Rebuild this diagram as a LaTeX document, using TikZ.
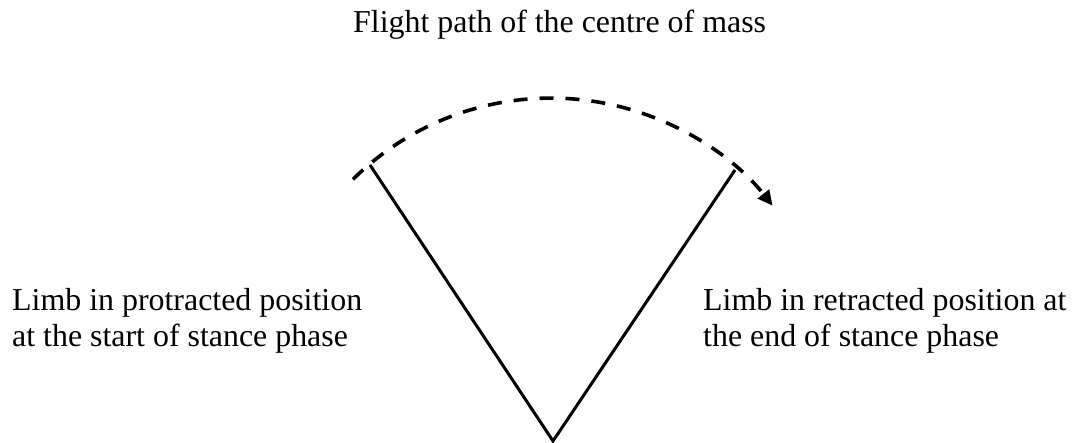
\documentclass[tikz,border=0pt]{standalone}
\usepackage{fontspec}
\setmainfont{Liberation Serif}
\usetikzlibrary{arrows.meta}
\begin{document}
\begin{tikzpicture}[x=1pt,y=1pt,
  lbl/.style={inner sep=0pt, align=left, font=\fontsize{31.9}{36.5}\selectfont},
  limb/.style={line width=3pt, line join=miter},
  flight/.style={line width=3.6pt, dash pattern=on 14pt off 12pt, -{Triangle[length=15pt,width=14pt]}}]
\useasboundingbox (0,0) rectangle (1075,-443);
\node[lbl, anchor=base west] (title) at (353,-32.3) {Flight path of the centre of mass};
\node[lbl, anchor=base west] (left) at (12,-346.5) {Limb in protracted position\\at the start of stance phase};
\node[lbl, anchor=base west] (right) at (703,-346.5) {Limb in retracted position at\\the end of stance phase};
\coordinate (foot) at (553,-441);
\coordinate (ltop) at (370,-165);
\coordinate (rtop) at (735,-170);
\coordinate (arcstart) at (353,-179.3);
\draw[limb] (ltop) -- (foot) -- (rtop);
\draw[flight] (arcstart) arc[start angle=134.6, end angle=38.2, radius=282];
\end{tikzpicture}
\end{document}
